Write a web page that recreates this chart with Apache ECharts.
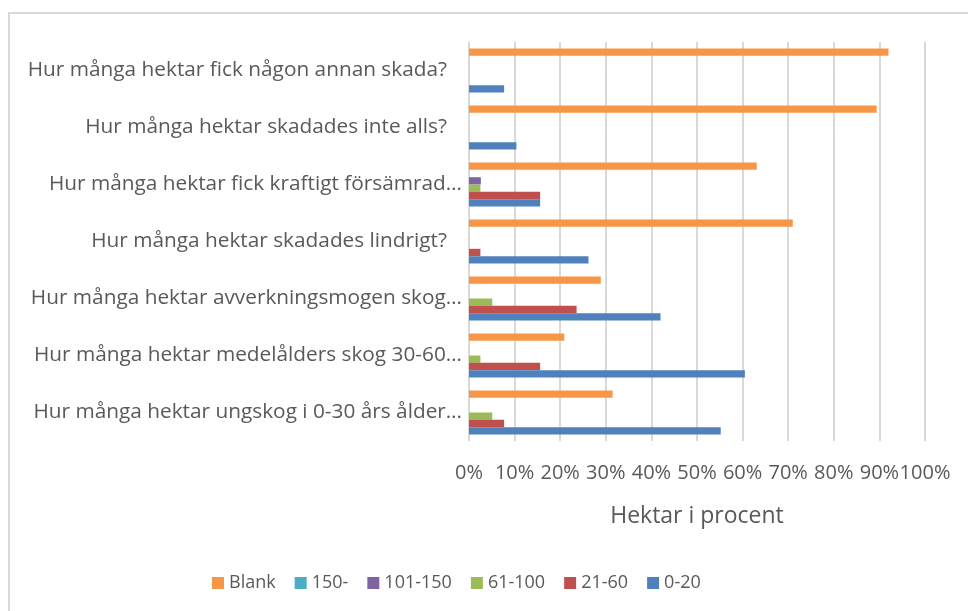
<!DOCTYPE html>
<html>
<head>
<meta charset="utf-8">
<script src="https://cdn.jsdelivr.net/npm/echarts@6/dist/echarts.min.js"></script>
<style>
  html, body { margin: 0; padding: 0; background: #fff; }
  #frame { position: absolute; left: 8px; top: 12px; width: 1000px; height: 700px;
           border-left: 2px solid #d9d9d9; border-top: 2px solid #d9d9d9; }
  #chart { position: absolute; left: 0; top: 0; width: 968px; height: 611px; }
</style>
</head>
<body>
<div id="frame"></div>
<div id="chart"></div>
<script>
  // kategorier nedifrån och upp
  var categories = [
    'Hur många hektar ungskog i 0-30 års ålder…',
    'Hur många hektar medelålders skog 30-60…',
    'Hur många hektar avverkningsmogen skog…',
    'Hur många hektar skadades lindrigt?',
    'Hur många hektar fick kraftigt försämrad…',
    'Hur många hektar skadades inte alls?',
    'Hur många hektar fick någon annan skada?'
  ]

  // procent per serie
  var vBlank   = [31.5, 20.9, 28.9, 71.0, 63.1, 89.4, 92.0]
  var v150     = [0, 0, 0, 0, 0, 0, 0]
  var v101_150 = [0, 0, 0, 0, 2.6, 0, 0]
  var v61_100  = [5.1, 2.5, 5.1, 0, 2.5, 0, 0]
  var v21_60   = [7.7, 15.6, 23.6, 2.5, 15.6, 0, 0]
  var v0_20    = [55.2, 60.5, 42.0, 26.2, 15.6, 10.4, 7.7]

  // första serien hamnar överst i varje kategori
  var seriesNames = ['Blank', '150-', '101-150', '61-100', '21-60', '0-20']
  var seriesData = [vBlank, v150, v101_150, v61_100, v21_60, v0_20]
  var colors = ['#F79646', '#4BACC6', '#8064A2', '#9BBB59', '#C0504D', '#4F81BD']

  var font = '"Open Sans", sans-serif'
  var labelStyle = { fontSize: 20.8, color: '#595959', fontFamily: font }

  var chart = echarts.init(document.getElementById('chart'))
  chart.setOption({
    animation: false,
    color: colors,
    textStyle: { fontFamily: font, color: '#595959' },
    grid: { left: 469, right: 43, top: 42, bottom: 170, containLabel: false },
    legend: {
      data: seriesNames,
      left: 207,
      top: 569,
      itemWidth: 12,
      itemHeight: 12,
      itemGap: 19,
      icon: 'rect',
      textStyle: { fontFamily: font, fontSize: 18, color: '#595959' }
    },
    xAxis: {
      type: 'value',
      min: 0,
      max: 100,
      interval: 10,
      name: 'Hektar i procent',
      nameLocation: 'middle',
      nameGap: 64,
      nameTextStyle: { fontFamily: font, fontSize: 23, color: '#595959' },
      axisLine: { show: false },
      axisTick: { show: false },
      axisLabel: {
        formatter: '{value}%',
        margin: 22,
        fontSize: 20,
        color: '#595959',
        fontFamily: font
      },
      splitLine: { lineStyle: { color: '#d9d9d9', width: 2 } }
    },
    yAxis: {
      type: 'category',
      data: categories,
      axisLine: { show: false },
      axisTick: { show: false },
      axisLabel: Object.assign({
        margin: 7,
        // hela etiketter slutar lite tidigare än de avkortade
        formatter: function (s) {
          return s.slice(-1) === '…' ? '{t|' + s + '}' : '{p|' + s + '}'
        },
        rich: {
          t: Object.assign({}, labelStyle),
          p: Object.assign({ padding: [0, 15, 0, 0] }, labelStyle)
        }
      }, labelStyle)
    },
    series: seriesNames.map(function (n, i) {
      return {
        name: n,
        type: 'bar',
        data: seriesData[i],
        barGap: '0%',
        barCategoryGap: '23%'
      }
    })
  })
</script>
</body>
</html>
